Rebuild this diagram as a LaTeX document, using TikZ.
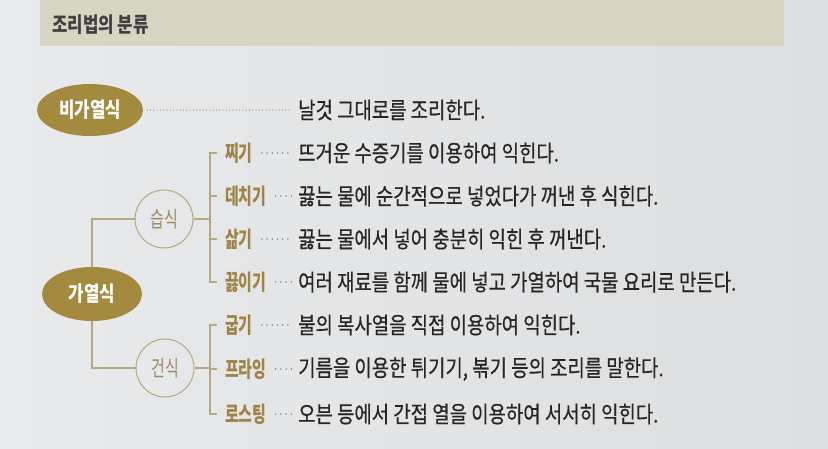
\documentclass[tikz,border=0pt]{standalone}
\usepackage{fontspec}
\newfontfamily\kortext{Noto Sans CJK KR}[FakeStretch=0.82, FakeBold=0.5]
\newfontfamily\korlabel{Noto Sans CJK KR}[FakeStretch=0.68]
\newfontfamily\korhead{Noto Sans CJK KR}[FakeStretch=0.8]
\usetikzlibrary{shapes.geometric}
\definecolor{gold}{HTML}{A48A3E}
\definecolor{labelgold}{HTML}{9E8546}
\definecolor{linegold}{HTML}{B8A87E}
\definecolor{circgold}{HTML}{9C8B63}
\definecolor{txtgray}{HTML}{262626}
\definecolor{dotgray}{HTML}{6A6A6A}
\definecolor{rawdot}{HTML}{8E8474}
\definecolor{band}{HTML}{D9D5C3}
\definecolor{pageleft}{HTML}{E8EAEC}
\definecolor{pageright}{HTML}{DCDEE0}
\tikzset{
	desc/.style={anchor=west, inner sep=0pt, text=txtgray, font={\kortext\fontsize{23}{26}\selectfont}},
	method/.style={anchor=west, inner sep=0pt, text=labelgold, font={\korlabel\bfseries\fontsize{22}{26}\selectfont}},
	group/.style={ellipse, fill=gold, text=white, inner sep=0pt, font={\korhead\bfseries\fontsize{21}{24}\selectfont}},
	kind/.style={circle, draw=linegold, line width=1pt, minimum size=58pt, inner sep=0pt, text=circgold, font={\korlabel\fontsize{22}{26}\selectfont}},
	branch/.style={draw=linegold, line width=1.1pt},
	leader/.style={draw=dotgray, line width=1.5pt, line cap=round, dash pattern=on 0pt off 5.2pt, shorten <=9pt, shorten >=6pt},
	rawleader/.style={draw=rawdot, line width=1.2pt, line cap=round, dash pattern=on 0pt off 3.3pt, shorten <=4pt, shorten >=8pt}
}
\begin{document}
\begin{tikzpicture}[x=1pt, y=-1pt]
	\useasboundingbox (0,0) rectangle (828,448);
	\shade[left color=pageleft, right color=pageright] (0,0) rectangle (828,448);
	\fill[band] (40,0) rectangle (784,46);
	\node (title) [anchor=west, inner sep=0pt, text=black!75, font={\korhead\bfseries\fontsize{21}{24}\selectfont}] at (52,25) {조리법의 분류};

	% left side
	\node (raw)   [group, minimum width=106pt, minimum height=52pt] at (90,110) {비가열식};
	\node (heat)  [group, minimum width=100pt, minimum height=54pt] at (92,294) {가열식};
	\node (wet)   [kind] at (164,219) {습식};
	\node (dry)   [kind] at (165,368) {건식};
	\draw[branch] (heat.north) |- (wet.west);
	\draw[branch] (heat.south) |- (dry.west);

	% methods
	\node (steam)   [method] at (225,153) {찌기};
	\node (blanch)  [method] at (225,196) {데치기};
	\node (boil)    [method] at (225,239) {삶기};
	\node (simmer)  [method] at (225,282) {끓이기};
	\node (grill)   [method] at (225,325) {굽기};
	\node (fry)     [method] at (225,369) {프라잉};
	\node (roast)   [method] at (225,414) {로스팅};

	% descriptions
	\node (rawtxt)    [desc] at (298,110) {날것 그대로를 조리한다.};
	\node (steamtxt)  [desc] at (298,153) {뜨거운 수증기를 이용하여 익힌다.};
	\node (blanchtxt) [desc] at (298,196) {끓는 물에 순간적으로 넣었다가 꺼낸 후 식힌다.};
	\node (boiltxt)   [desc] at (298,239) {끓는 물에서 넣어 충분히 익힌 후 꺼낸다.};
	\node (simmertxt) [desc] at (298,282) {여러 재료를 함께 물에 넣고 가열하여 국물 요리로 만든다.};
	\node (grilltxt)  [desc] at (298,325) {불의 복사열을 직접 이용하여 익힌다.};
	\node (frytxt)    [desc] at (298,369) {기름을 이용한 튀기기, 볶기 등의 조리를 말한다.};
	\node (roasttxt)  [desc] at (298,414) {오븐 등에서 간접 열을 이용하여 서서히 익힌다.};

	% brackets
	\coordinate (wetfork) at (210,219);
	\coordinate (dryfork) at (210,368);
	\draw[branch] (wet.east) -- (wetfork);
	\draw[branch] ([xshift=-8pt]steam.west) -| (wetfork);
	\draw[branch] ([xshift=-8pt]simmer.west) -| (wetfork);
	\draw[branch] ([xshift=-8pt]blanch.west) -- (blanch.west -| wetfork);
	\draw[branch] ([xshift=-8pt]boil.west) -- (boil.west -| wetfork);
	\draw[branch] (dry.east) -- (dryfork);
	\draw[branch] ([xshift=-8pt]grill.west) -| (dryfork);
	\draw[branch] ([xshift=-8pt]roast.west) -| (dryfork);
	\draw[branch] ([xshift=-8pt]fry.west) -- (fry.west -| dryfork);

	% leaders
	\draw[rawleader] (raw.east) -- (rawtxt.west);
	\draw[leader] (steam.east) -- (steamtxt.west);
	\draw[leader] (blanch.east) -- (blanchtxt.west);
	\draw[leader] (boil.east) -- (boiltxt.west);
	\draw[leader] (simmer.east) -- (simmertxt.west);
	\draw[leader] (grill.east) -- (grilltxt.west);
	\draw[leader] (fry.east) -- (frytxt.west);
	\draw[leader] (roast.east) -- (roasttxt.west);
\end{tikzpicture}
\end{document}
